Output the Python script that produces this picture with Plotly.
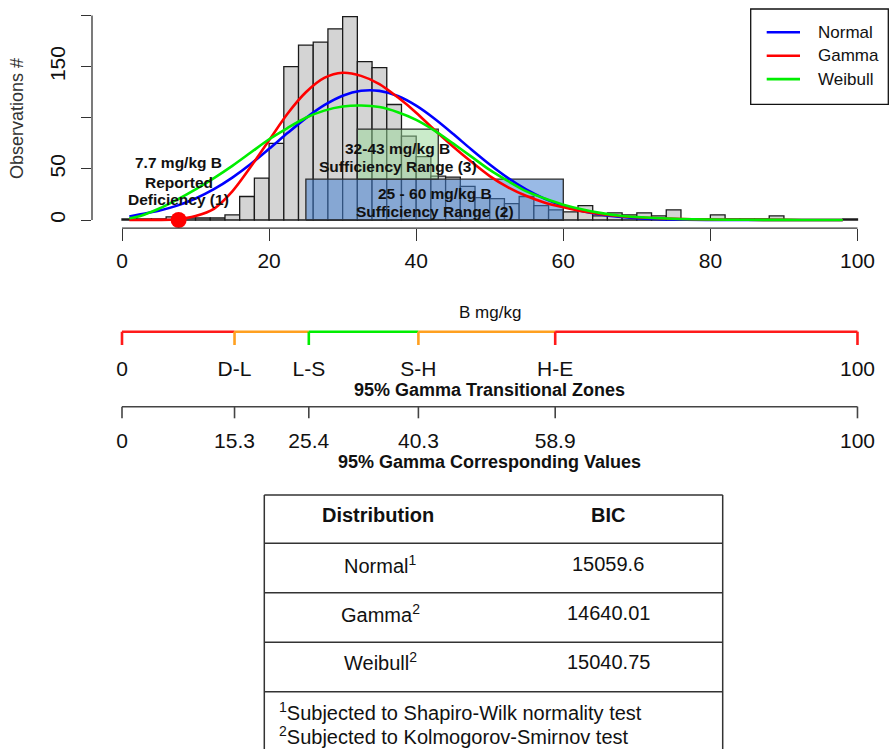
import plotly.graph_objects as go

W, H = 890, 749

# ---------------- data ----------------
bin_left = list(range(0, 100, 2))
counts = [1, 1, 1, 3, 2, 2, 2, 5, 23, 41,
          75, 150, 171, 174, 187, 199, 155, 149, 113, 82,
          62, 43, 42, 33, 22, 21, 16, 23, 14, 10,
          8, 14, 4, 7, 5, 7, 4, 10, 1, 1,
          5, 1, 1, 1, 4, 0, 0, 0, 0, 1]

curve_x = [1, 2.5, 5, 7.5, 10, 12.5, 15, 17.5, 20, 22.5, 25, 27.5, 30, 32.5, 35,
           37.5, 40, 42.5, 45, 47.5, 50, 52.5, 55, 57.5, 60, 62.5, 65, 67.5, 70,
           75, 80, 85, 90, 95, 98]
normal_fit = [3.5, 5.6, 9.1, 14.1, 21.1, 30.2, 41.5, 54.8, 69.7, 85, 99.7, 112.3, 121.6,
              126.4, 126.3, 121.3, 111.9, 99.1, 84.4, 69, 54.3, 41, 29.7, 20.7, 13.9,
              8.9, 5.5, 3.3, 1.9, 0.5, 0.1, 0, 0, 0, 0]
gamma_fit = [0, 0, 0.1, 0.8, 4, 11, 28, 52, 78, 104, 125, 139, 144, 141, 133, 120, 105,
             88, 72, 57, 43, 32, 23.5, 17, 12.5, 8.5, 6, 4, 2.7, 1.2, 0.5, 0.2, 0.1, 0, 0]
weibull_fit = [1.7, 4, 11, 20, 30, 41, 53, 66, 79, 90, 100, 107, 111, 112, 110.5, 105.5,
               98, 87.5, 75, 62, 49, 38, 28, 21, 15, 10.5, 7, 4.5, 3, 1.2, 0.5, 0.2, 0.1, 0, 0]
dist_names = ["Normal", "Gamma", "Weibull"]

deficiency_value = 7.7
deficiency_label = ["7.7 mg/kg B", "Reported", "Deficiency (1)"]
range2 = [25, 60]
range2_label = ["25 - 60 mg/kg B", "Sufficiency Range (2)"]
range3 = [32, 43]
range3_label = ["32-43 mg/kg B", "Sufficiency Range (3)"]

x_ticks = [0, 20, 40, 60, 80, 100]
y_ticks = [0, 50, 100, 150, 200]
y_ticktext = ["0", "50", "", "150", ""]

zone_bounds = [0, 15.3, 25.4, 40.3, 58.9, 100]
zone_labels = ["0", "D-L", "L-S", "S-H", "H-E", "100"]
zone_values = ["0", "15.3", "25.4", "40.3", "58.9", "100"]

table_header = ["Distribution", "BIC"]
table_dist = ["Normal<sup>1</sup>", "Gamma<sup>2</sup>", "Weibull<sup>2</sup>"]
table_bic = ["15059.6", "14640.01", "15040.75"]
table_notes = ["<sup>1</sup>Subjected to Shapiro-Wilk normality test",
               "<sup>2</sup>Subjected to Kolmogorov-Smirnov test"]

# ---------------- styles ----------------
FONT = "Liberation Sans, Arial, sans-serif"
NARROW = "Liberation Sans Narrow, Arial Narrow, Liberation Sans, sans-serif"
RED, ORANGE, GREEN, BLUE = "#ff1a1a", "#ffa020", "#00ee00", "#0000ff"
INK = "#333333"
curve_colors = [BLUE, "#ff0000", "#00ee00"]
seg_colors = [RED, ORANGE, GREEN, ORANGE, RED]
tick_colors = [RED, ORANGE, GREEN, ORANGE, RED, RED]


def px_x(p):
    return p / W


def px_y(p):
    return 1 - p / H


fig = go.Figure()

# histogram
fig.add_trace(go.Bar(
    x=[b + 1 for b in bin_left], y=counts, width=2,
    marker=dict(color="#d4d4d4", line=dict(color="#1a1a1a", width=1.3)),
    xaxis="x", yaxis="y", hoverinfo="skip"))

# sufficiency boxes
for (a, b), (y0, y1), fill in [(range2, (0, 40), "rgba(70,130,210,0.55)"),
                               (range3, (40, 89), "rgba(150,215,150,0.5)")]:
    fig.add_trace(go.Scatter(
        x=[a, b, b, a, a], y=[y0, y0, y1, y1, y0], mode="lines", fill="toself",
        fillcolor=fill, line=dict(color="#2a2a2a", width=1.3),
        xaxis="x", yaxis="y", hoverinfo="skip"))

# fitted curves
for name, vals, col in zip(dist_names, [normal_fit, gamma_fit, weibull_fit], curve_colors):
    fig.add_trace(go.Scatter(
        x=curve_x, y=vals, mode="lines", name=name,
        line=dict(color=col, width=2.6, shape="spline", smoothing=0.8),
        xaxis="x", yaxis="y"))

# deficiency point
fig.add_trace(go.Scatter(x=[deficiency_value], y=[0], mode="markers",
                         marker=dict(color="#ff0000", size=16),
                         xaxis="x", yaxis="y"))

# axis lines (R style, only over data range)
shapes = [
    dict(type="line", xref="x", yref="paper", x0=0, x1=100,
         y0=px_y(228.2), y1=px_y(228.2), line=dict(color=INK, width=1.3)),
    dict(type="line", xref="paper", yref="y", x0=px_x(92), x1=px_x(92),
         y0=0, y1=200, line=dict(color=INK, width=1.3)),
]

annotations = []


def ann(**kw):
    kw.setdefault("xanchor", "center")
    kw.setdefault("yanchor", "middle")
    kw.setdefault("showarrow", False)
    annotations.append(kw)


BOLDN = dict(family=NARROW, size=15.5, color="#111")
# annotation texts inside histogram
for t, yy in zip(deficiency_label, [56, 37, 19.6]):
    ann(x=deficiency_value, y=yy, xref="x", yref="y", text="<b>%s</b>" % t, font=BOLDN)
for t, yy in zip(range3_label, [70.4, 52.1]):
    ann(x=sum(range3) / 2, y=yy, xref="x", yref="y", text="<b>%s</b>" % t, font=BOLDN)
for t, yy in zip(range2_label, [26.1, 8.1]):
    ann(x=sum(range2) / 2, y=yy, xref="x", yref="y", text="<b>%s</b>" % t, font=BOLDN)

# y title
ann(x=px_x(17), y=px_y(119), xref="paper", yref="paper", text="Observations #",
    textangle=-90, font=dict(family=FONT, size=18, color="#333"))

# legend (manual, R style)
shapes.append(dict(type="rect", xref="paper", yref="paper", x0=px_x(750.7), x1=px_x(888.3),
                   y0=px_y(104.3), y1=px_y(9), line=dict(color="#111", width=1.3),
                   fillcolor="white"))
for i, (name, col) in enumerate(zip(dist_names, curve_colors)):
    yy = 32.3 + i * 23.4
    shapes.append(dict(type="line", xref="paper", yref="paper", x0=px_x(766.7), x1=px_x(800),
                       y0=px_y(yy), y1=px_y(yy), line=dict(color=col, width=2.6)))
    ann(x=px_x(815.7), y=px_y(yy), xref="paper", yref="paper", text=name, xanchor="left",
        font=dict(family=FONT, size=17, color="#111"))

# ---------------- lower axes (x2/y2, y2 in negative pixel units) ----------------
ZL, ZT, VL, VT = -331.7, -345, -406.7, -418.3
for i, col in enumerate(seg_colors):
    fig.add_trace(go.Scatter(x=[zone_bounds[i], zone_bounds[i + 1]], y=[ZL, ZL], mode="lines",
                             line=dict(color=col, width=2.6), xaxis="x2", yaxis="y2"))
for xb, col in zip(zone_bounds, tick_colors):
    fig.add_trace(go.Scatter(x=[xb, xb], y=[ZL, ZT], mode="lines",
                             line=dict(color=col, width=2.6), xaxis="x2", yaxis="y2"))
fig.add_trace(go.Scatter(x=[zone_bounds[0], zone_bounds[-1]], y=[VL, VL], mode="lines",
                         line=dict(color="#444", width=1.6), xaxis="x2", yaxis="y2"))
vx, vy = [], []
for xb in zone_bounds:
    vx += [xb, xb, None]
    vy += [VL, VT, None]
fig.add_trace(go.Scatter(x=vx, y=vy, mode="lines", line=dict(color="#444", width=1.6),
                         xaxis="x2", yaxis="y2"))
fig.add_trace(go.Scatter(x=zone_bounds, y=[-371] * len(zone_bounds), mode="text",
                         text=zone_labels, textposition="middle center",
                         textfont=dict(family=FONT, size=21, color="#111"),
                         xaxis="x2", yaxis="y2"))
fig.add_trace(go.Scatter(x=zone_bounds, y=[-443] * len(zone_bounds), mode="text",
                         text=zone_values, textposition="middle center",
                         textfont=dict(family=FONT, size=21, color="#111"),
                         xaxis="x2", yaxis="y2"))
for t, yy, bold, sz in [("B mg/kg", -312.5, False, 17),
                        ("95% Gamma Transitional Zones", -389.5, True, 18),
                        ("95% Gamma Corresponding Values", -462, True, 18)]:
    ann(x=50, y=yy, xref="x2", yref="y2", text=("<b>%s</b>" % t) if bold else t,
        font=dict(family=FONT, size=sz, color="#111"))

# ---------------- table ----------------
TL, TR, TT = 264.3, 722.7, 495
row_lines = [543.3, 592.7, 642.3, 691.7]
shapes.append(dict(type="line", xref="paper", yref="paper", x0=px_x(TL), x1=px_x(TR),
                   y0=px_y(TT), y1=px_y(TT), line=dict(color=INK, width=1.5)))
for xx in (TL, TR):
    shapes.append(dict(type="line", xref="paper", yref="paper", x0=px_x(xx), x1=px_x(xx),
                       y0=px_y(TT), y1=px_y(H + 5), line=dict(color=INK, width=1.5)))
for yy in row_lines:
    shapes.append(dict(type="line", xref="paper", yref="paper", x0=px_x(TL), x1=px_x(TR),
                       y0=px_y(yy), y1=px_y(yy), line=dict(color=INK, width=1.5)))
col_x = [378, 608]
TF = dict(family=FONT, size=20, color="#111")
for t, cx in zip(table_header, col_x):
    ann(x=px_x(cx), y=px_y(515), xref="paper", yref="paper", text="<b>%s</b>" % t, font=TF)
for i, (d, b) in enumerate(zip(table_dist, table_bic)):
    yy = [564, 613.3, 661.7][i]
    ann(x=px_x(col_x[0] + 2), y=px_y(yy), xref="paper", yref="paper", text=d, font=TF)
    ann(x=px_x(col_x[1]), y=px_y(yy), xref="paper", yref="paper", text=b, font=TF)
for t, yy in zip(table_notes, [711.7, 735]):
    ann(x=px_x(276.7), y=px_y(yy), xref="paper", yref="paper", text=t, xanchor="left", font=TF)

x_dom = [px_x(92), px_x(888)]
x_rng = [-4.079, 104.15]
fig.update_layout(
    width=W, height=H, margin=dict(l=0, r=0, t=0, b=0),
    paper_bgcolor="white", plot_bgcolor="rgba(0,0,0,0)", showlegend=False,
    font=dict(family=FONT, color="#111"), barmode="overlay",
    xaxis=dict(domain=x_dom, range=x_rng, anchor="y", tickvals=x_ticks, ticks="outside",
               ticklen=12, tickwidth=1.3, tickcolor=INK, showline=False, showgrid=False,
               zeroline=False, tickfont=dict(size=21, color="#111"), automargin=False,
               ticklabelstandoff=2),
    yaxis=dict(domain=[px_y(228.2), px_y(8.4)], range=[-8, 207], anchor="x",
               tickvals=y_ticks, ticktext=y_ticktext, ticks="outside", ticklen=10,
               tickwidth=1.3, tickcolor=INK, showline=False, showgrid=False, zeroline=False,
               tickangle=-90, tickfont=dict(size=21, color="#111"), automargin=False,
               ticklabelstandoff=8),
    xaxis2=dict(domain=x_dom, range=x_rng, anchor="y2", visible=False),
    yaxis2=dict(domain=[px_y(490), px_y(295)], range=[-490, -295], anchor="x2", visible=False),
    shapes=shapes, annotations=annotations,
)

fig.write_html("out.html", config={"displayModeBar": False},
               post_script="document.body.style.margin='0px';document.body.style.overflow='hidden';")
